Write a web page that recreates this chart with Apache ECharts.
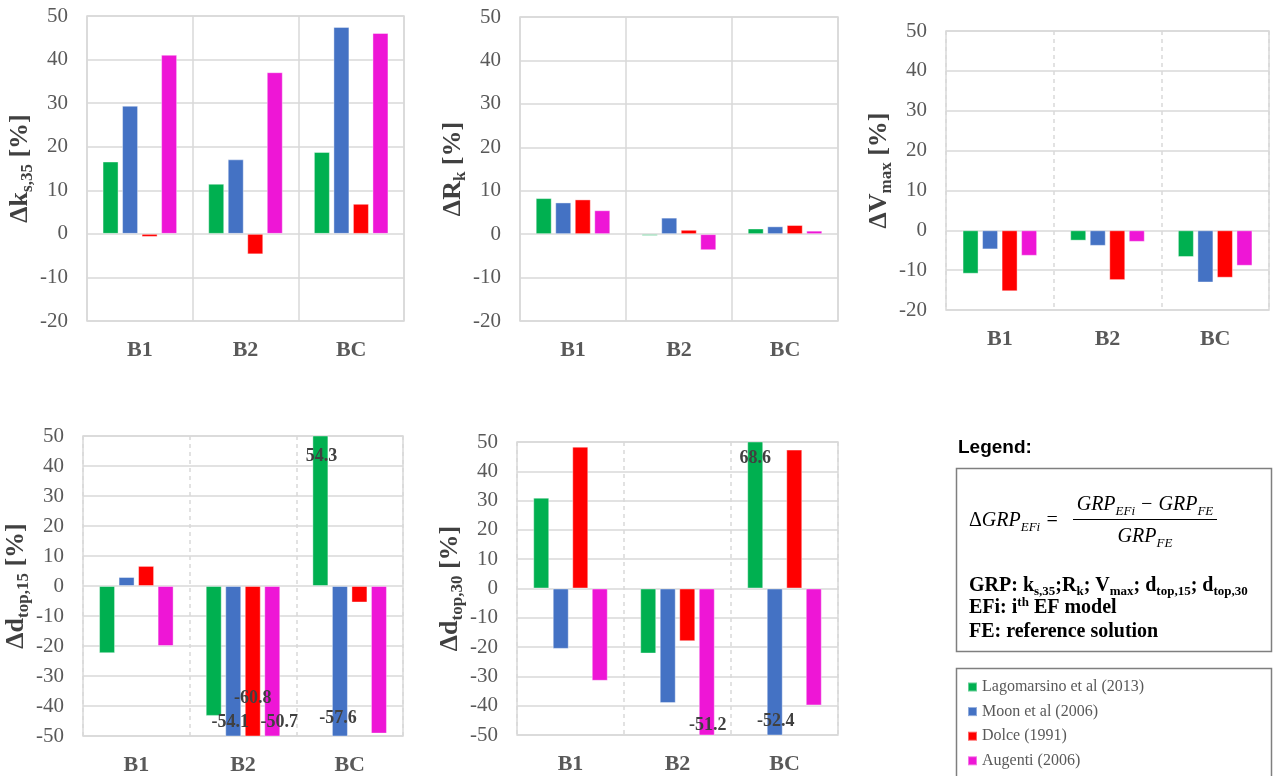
<!DOCTYPE html>
<html>
<head>
<meta charset="utf-8">
<script src="https://cdn.jsdelivr.net/npm/echarts/dist/echarts.min.js"></script>
<style>
html,body{margin:0;padding:0;background:#fff;}
#chart{width:1274px;height:776px;}
</style>
</head>
<body>
<div id="chart"></div>
<script>
// ---- data ----
const categories = ['B1', 'B2', 'BC'];
const seriesNames = ['Lagomarsino et al (2013)', 'Moon et al (2006)', 'Dolce (1991)', 'Augenti (2006)'];
const seriesColors = ['#00B050', '#4472C4', '#FF0000', '#EE16D6'];
// values per series (Lagomarsino, Moon, Dolce, Augenti), each over B1, B2, BC
const ks35Lag = [16.6, 11.5, 18.8];
const ks35Moon = [29.4, 17.1, 47.5];
const ks35Dolce = [-0.7, -4.7, 6.9];
const ks35Aug = [41.1, 37.1, 46.1];
const rkLag = [8.3, -0.4, 1.3];
const rkMoon = [7.3, 3.8, 1.8];
const rkDolce = [8.0, 1.0, 2.1];
const rkAug = [5.5, -3.7, 0.8];
const vmaxLag = [-10.9, -2.6, -6.7];
const vmaxMoon = [-4.8, -3.9, -13.1];
const vmaxDolce = [-15.3, -12.5, -11.9];
const vmaxAug = [-6.4, -2.9, -8.9];
const dtop15Lag = [-22.4, -43.3, 54.3];
const dtop15Moon = [3.0, -54.1, -57.6];
const dtop15Dolce = [6.7, -60.8, -5.5];
const dtop15Aug = [-20.0, -50.7, -49.2];
const dtop30Lag = [31.0, -22.2, 68.6];
const dtop30Moon = [-20.6, -39.1, -52.4];
const dtop30Dolce = [48.4, -18.0, 47.4];
const dtop30Aug = [-31.5, -51.2, -39.9];
const yTicksTop = [-20, 50];
const yTicksBottom = [-50, 50];

// ---- layout / style ----
const panels = [
  {vals: [ks35Lag, ks35Moon, ks35Dolce, ks35Aug], range: yTicksTop, grid: {left: 87, top: 16, width: 317, height: 305}, dashed: false, name: '{m|Δk}{s|s,35}{m| [%]}', gap: 47},
  {vals: [rkLag, rkMoon, rkDolce, rkAug], range: yTicksTop, grid: {left: 520, top: 17, width: 318, height: 304}, dashed: false, name: '{m|ΔR}{s|k}{m| [%]}', gap: 48},
  {vals: [vmaxLag, vmaxMoon, vmaxDolce, vmaxAug], range: yTicksTop, grid: {left: 946, top: 31, width: 323, height: 279}, dashed: true, name: '{m|ΔV}{s|max}{m| [%]}', gap: 46},
  {vals: [dtop15Lag, dtop15Moon, dtop15Dolce, dtop15Aug], range: yTicksBottom, grid: {left: 83, top: 436, width: 320, height: 302}, dashed: true, name: '{m|Δd}{s|top,15}{m| [%]}', gap: 44},
  {vals: [dtop30Lag, dtop30Moon, dtop30Dolce, dtop30Aug], range: yTicksBottom, grid: {left: 517, top: 442, width: 321, height: 293}, dashed: true, name: '{m|Δd}{s|top,30}{m| [%]}', gap: 48}
];
// which bars carry a value label: [panel, series, category, position, offset]
const labelSpots = [
  [3, 0, 2, 'insideTop', [1, 7]],
  [3, 1, 1, 'insideBottom', [-3, 0]],
  [3, 2, 1, 'insideBottom', [0, -24]],
  [3, 3, 1, 'insideBottom', [7, 0]],
  [3, 1, 2, 'insideBottom', [-2, -4]],
  [4, 0, 2, 'insideTop', [0, 3]],
  [4, 3, 1, 'insideBottom', [1, 4]],
  [4, 1, 2, 'insideBottom', [1, 0]]
];

const serif = 'Liberation Serif';
const gridColor = '#d9d9d9';

const grids = [], xAxes = [], yAxes = [], series = [];
panels.forEach((p, pi) => {
  grids.push(Object.assign({show: true, borderColor: gridColor, borderWidth: 1.5, backgroundColor: 'transparent'}, p.grid));
  xAxes.push({
    type: 'category', gridIndex: pi, data: categories,
    axisLine: {show: false}, axisTick: {show: false},
    axisLabel: {fontFamily: serif, fontWeight: 'bold', fontSize: 22, color: '#595959', margin: 18},
    splitLine: {show: true, interval: 0, lineStyle: {color: gridColor, width: 1.5, type: p.dashed ? [4, 4] : 'solid'}}
  });
  yAxes.push({
    type: 'value', gridIndex: pi, min: p.range[0], max: p.range[1], interval: 10,
    axisLine: {show: false}, axisTick: {show: false},
    axisLabel: {fontFamily: serif, fontSize: 21, color: '#595959', margin: 19},
    splitLine: {lineStyle: {color: gridColor, width: 1.5}},
    name: p.name, nameLocation: 'middle', nameRotate: 90, nameGap: p.gap,
    nameTextStyle: {
      rich: {
        m: {fontFamily: serif, fontWeight: 'bold', fontSize: 26, lineHeight: 32, color: '#404040'},
        s: {fontFamily: serif, fontWeight: 'bold', fontSize: 17, lineHeight: 17, verticalAlign: 'bottom', color: '#404040'}
      }
    }
  });
  p.vals.forEach((arr, si) => {
    const data = arr.map((v, ci) => {
      const spot = labelSpots.find(s => s[0] === pi && s[1] === si && s[2] === ci);
      if (!spot) return v;
      return {value: v, label: {show: true, position: spot[3], offset: spot[4], distance: 5}};
    });
    series.push({
      type: 'bar', name: seriesNames[si], xAxisIndex: pi, yAxisIndex: pi,
      data: data, barWidth: 16, barGap: '22%', clip: true,
      itemStyle: {color: seriesColors[si], borderColor: 'rgba(255,255,255,0.4)', borderWidth: 1},
      label: {show: false, formatter: '{c}', fontFamily: serif, fontWeight: 'bold', fontSize: 18, color: '#404040'},
      emphasis: {disabled: true},
      animation: false
    });
  });
});

const mathRich = {
  d: {fontFamily: serif, fontSize: 20, color: '#000'},
  i: {fontFamily: serif, fontStyle: 'italic', fontSize: 20, color: '#000', lineHeight: 26},
  s: {fontFamily: serif, fontStyle: 'italic', fontSize: 13, color: '#000', lineHeight: 13, verticalAlign: 'bottom'}
};
const boldRich = {
  b: {fontFamily: serif, fontWeight: 'bold', fontSize: 20, color: '#000', lineHeight: 24},
  s: {fontFamily: serif, fontWeight: 'bold', fontSize: 13, color: '#000', lineHeight: 13, verticalAlign: 'bottom'},
  u: {fontFamily: serif, fontWeight: 'bold', fontSize: 13, color: '#000', lineHeight: 13, verticalAlign: 'top'}
};

const graphic = [
  {type: 'text', x: 958, y: 448, style: {text: 'Legend:', fontFamily: 'Liberation Sans', fontWeight: 'bold', fontSize: 19, fill: '#000', verticalAlign: 'middle', textVerticalAlign: 'middle'}},
  {type: 'rect', shape: {x: 956.5, y: 468.5, width: 315, height: 183}, style: {fill: 'none', stroke: '#7f7f7f', lineWidth: 1.5}},
  {type: 'rect', shape: {x: 956.5, y: 668.5, width: 315, height: 130}, style: {fill: 'none', stroke: '#7f7f7f', lineWidth: 1.5}},
  {type: 'text', x: 969, y: 521, style: {text: '{d|Δ}{i|GRP}{s|EFi}{i| = }', rich: mathRich, verticalAlign: 'middle', textVerticalAlign: 'middle'}},
  {type: 'text', x: 1145, y: 505, style: {text: '{i|GRP}{s|EFi}{i| − GRP}{s|FE}', rich: mathRich, align: 'center', textAlign: 'center', verticalAlign: 'middle', textVerticalAlign: 'middle'}},
  {type: 'line', shape: {x1: 1073, y1: 519.5, x2: 1217, y2: 519.5}, style: {stroke: '#000', lineWidth: 1.2}},
  {type: 'text', x: 1145, y: 537, style: {text: '{i|GRP}{s|FE}', rich: mathRich, align: 'center', textAlign: 'center', verticalAlign: 'middle', textVerticalAlign: 'middle'}},
  {type: 'text', x: 969, y: 586, style: {text: '{b|GRP: k}{s|s,35}{b|;R}{s|k}{b|; V}{s|max}{b|; d}{s|top,15}{b|; d}{s|top,30}', rich: boldRich, verticalAlign: 'middle', textVerticalAlign: 'middle'}},
  {type: 'text', x: 969, y: 608, style: {text: '{b|EFi: i}{u|th}{b| EF model}', rich: boldRich, verticalAlign: 'middle', textVerticalAlign: 'middle'}},
  {type: 'text', x: 969, y: 632, style: {text: '{b|FE: reference solution}', rich: boldRich, verticalAlign: 'middle', textVerticalAlign: 'middle'}}
];

const chart = echarts.init(document.getElementById('chart'), null, {renderer: 'canvas'});
chart.setOption({
  backgroundColor: '#fff',
  animation: false,
  grid: grids, xAxis: xAxes, yAxis: yAxes, series: series,
  legend: {
    data: seriesNames, orient: 'vertical', left: 962, top: 674,
    itemWidth: 9, itemHeight: 9, itemGap: 8.6, icon: 'rect', selectedMode: false,
    textStyle: {fontFamily: serif, fontSize: 16, color: '#595959', lineHeight: 16}
  },
  graphic: graphic
});
</script>
</body>
</html>
